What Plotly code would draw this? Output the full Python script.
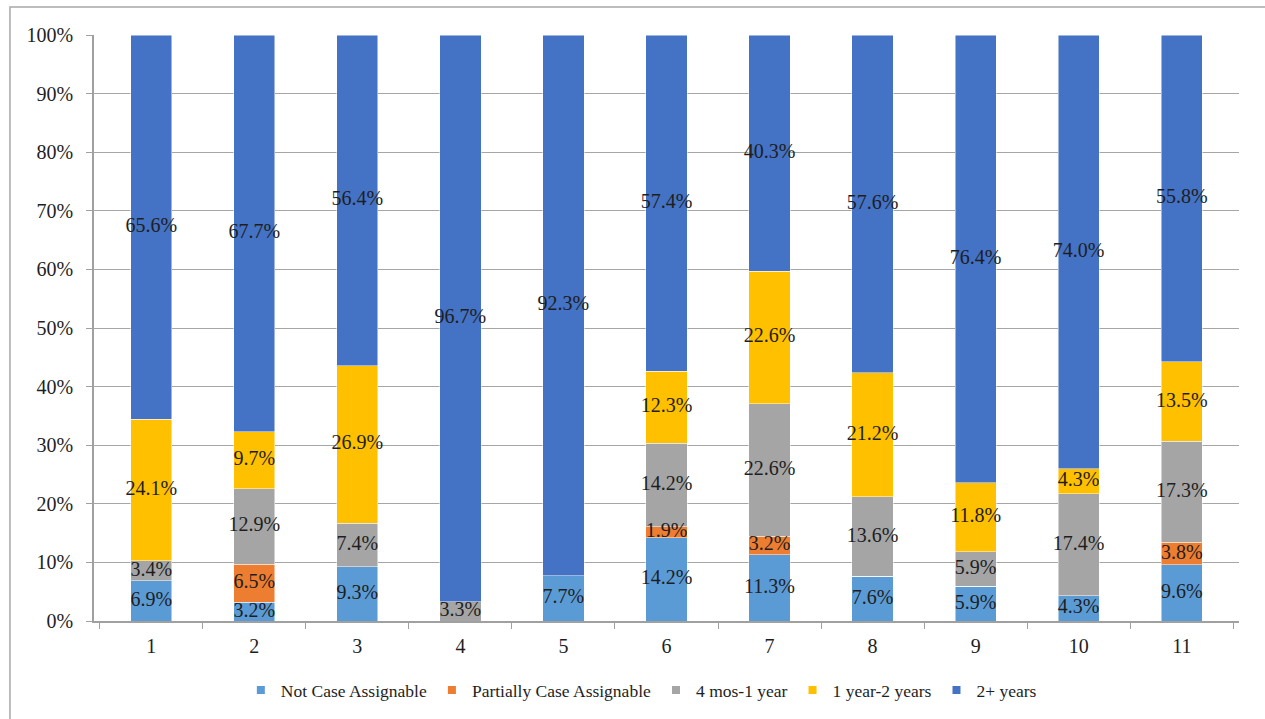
import numpy as np
import plotly.graph_objects as go

# Share of cases by age group for each of the 11 units (percent)
categories = ["1", "2", "3", "4", "5", "6", "7", "8", "9", "10", "11"]
not_case_assignable = [6.9, 3.2, 9.3, 0.0, 7.7, 14.2, 11.3, 7.6, 5.9, 4.3, 9.6]
partially_case_assignable = [0.0, 6.5, 0.0, 0.0, 0.0, 1.9, 3.2, 0.0, 0.0, 0.0, 3.8]
mos4_to_1yr = [3.4, 12.9, 7.4, 3.3, 0.0, 14.2, 22.6, 13.6, 5.9, 17.4, 17.3]
yr1_to_2yr = [24.1, 9.7, 26.9, 0.0, 0.0, 12.3, 22.6, 21.2, 11.8, 4.3, 13.5]
yr2_plus = [65.6, 67.7, 56.4, 96.7, 92.3, 57.4, 40.3, 57.6, 76.4, 74.0, 55.8]
y_ticks = [0, 10, 20, 30, 40, 50, 60, 70, 80, 90, 100]
y_tick_labels = [f"{v}%" for v in y_ticks]

series = [
    ("Not Case Assignable", not_case_assignable, "#5B9BD5"),
    ("Partially Case Assignable", partially_case_assignable, "#ED7D31"),
    ("4 mos-1 year", mos4_to_1yr, "#A5A5A5"),
    ("1 year-2 years", yr1_to_2yr, "#FFC000"),
    ("2+ years", yr2_plus, "#4472C4"),
]

FONT = "Liberation Serif"
TEXT = "#1e1e1e"
fig = go.Figure()

base = np.zeros(len(categories))
label_x, label_y, label_text = [], [], []
for name, values, color in series:
    vals = np.array(values, dtype=float)
    fig.add_trace(go.Bar(
        x=categories, y=vals, name=name, marker_color=color,
        marker_line=dict(color="rgba(255,255,255,0.6)", width=0.8),
        showlegend=False, hoverinfo="skip",
    ))
    for i, v in enumerate(vals):
        if v > 0:
            label_x.append(categories[i])
            label_y.append(base[i] + v / 2)
            label_text.append(f"{v:.1f}%")
    base = base + vals
    # legend entry with a small square swatch
    fig.add_trace(go.Scatter(
        x=[None], y=[None], mode="markers", name=name,
        marker=dict(symbol="square", size=8, color=color),
    ))

# Segment value labels
fig.add_trace(go.Scatter(
    x=label_x, y=label_y, text=label_text, mode="text",
    textfont=dict(family=FONT, size=20, color=TEXT),
    showlegend=False, hoverinfo="skip", cliponaxis=False,
))

fig.update_layout(
    barmode="stack",
    bargap=0.6,
    width=1265, height=719,
    margin=dict(l=94, r=26, t=35, b=98),
    paper_bgcolor="white", plot_bgcolor="white",
    font=dict(family=FONT, size=20, color=TEXT),
    legend=dict(
        orientation="h", x=0.507, xanchor="center", xref="container",
        y=0.04, yanchor="middle", yref="container",
        font=dict(family=FONT, size=17.5, color=TEXT),
        itemwidth=30, traceorder="normal",
        itemclick=False,
    ),
    xaxis=dict(
        type="category", showgrid=False,
        showline=True, linecolor="#a0a0a0", linewidth=1.5,
        ticks="outside", tickson="boundaries", ticklen=6, tickcolor="#a0a0a0",
        tickfont=dict(family=FONT, size=20, color=TEXT),
        ticklabelstandoff=6,
    ),
    yaxis=dict(
        range=[0, 100], tickvals=y_ticks, ticktext=y_tick_labels,
        showgrid=True, gridcolor="#a6a6a6", gridwidth=1.3,
        showline=True, linecolor="#a0a0a0", linewidth=1.5,
        ticks="outside", ticklen=6, tickcolor="#a0a0a0",
        tickfont=dict(family=FONT, size=20, color=TEXT),
        ticklabelstandoff=9,
        zeroline=False,
    ),
    shapes=[dict(
        type="rect", xref="paper", yref="paper",
        x0=-0.0734, x1=1.04, y0=-0.2, y1=1.0478,
        line=dict(color="#a8a8a8", width=1.5), layer="below",
    )],
)

fig.write_html("out.html")
